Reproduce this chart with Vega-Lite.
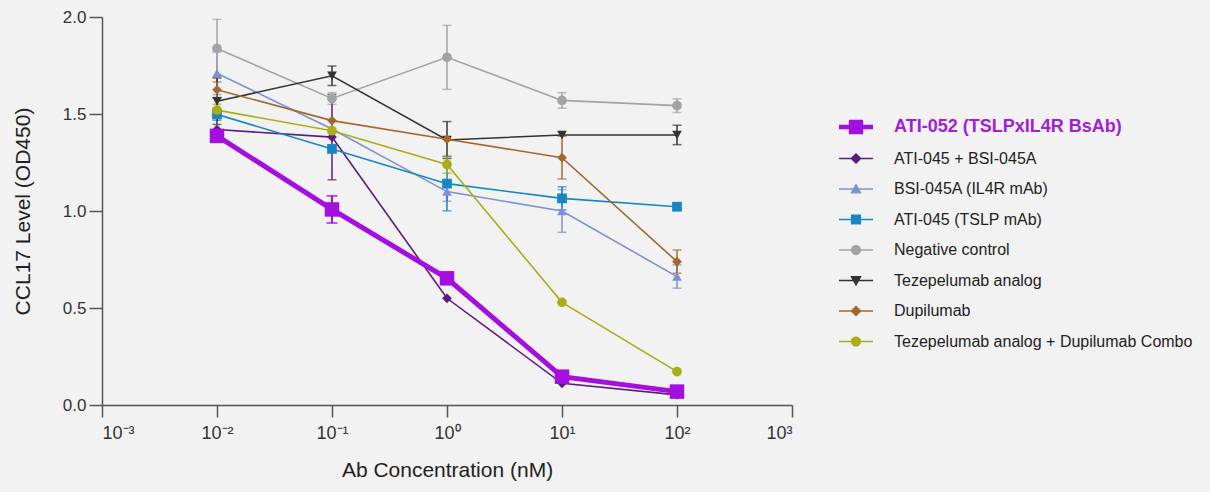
{
  "$schema": "https://vega.github.io/schema/vega-lite/v6.json",
  "autosize": {"type": "none"},
  "padding": {"left": 102, "top": 17, "right": 418, "bottom": 87},
  "width": 690,
  "height": 388,
  "background": "#f2f2f2",
  "data": {
    "values": [
      {"series": "ATI-052 (TSLPxIL4R BsAb)", "conc": 0.01, "v": 1.387, "err": 0},
      {"series": "ATI-052 (TSLPxIL4R BsAb)", "conc": 0.1, "v": 1.008, "err": 0.07},
      {"series": "ATI-052 (TSLPxIL4R BsAb)", "conc": 1, "v": 0.653, "err": 0},
      {"series": "ATI-052 (TSLPxIL4R BsAb)", "conc": 10, "v": 0.146, "err": 0},
      {"series": "ATI-052 (TSLPxIL4R BsAb)", "conc": 100, "v": 0.069, "err": 0},
      {"series": "ATI-045 + BSI-045A", "conc": 0.01, "v": 1.42, "err": 0},
      {"series": "ATI-045 + BSI-045A", "conc": 0.1, "v": 1.381, "err": 0.22},
      {"series": "ATI-045 + BSI-045A", "conc": 1, "v": 0.55, "err": 0},
      {"series": "ATI-045 + BSI-045A", "conc": 10, "v": 0.112, "err": 0},
      {"series": "ATI-045 + BSI-045A", "conc": 100, "v": 0.052, "err": 0},
      {"series": "BSI-045A (IL4R mAb)", "conc": 0.01, "v": 1.71, "err": 0.11},
      {"series": "BSI-045A (IL4R mAb)", "conc": 0.1, "v": 1.423, "err": 0},
      {"series": "BSI-045A (IL4R mAb)", "conc": 1, "v": 1.1, "err": 0.05},
      {"series": "BSI-045A (IL4R mAb)", "conc": 10, "v": 1.0, "err": 0.11},
      {"series": "BSI-045A (IL4R mAb)", "conc": 100, "v": 0.662, "err": 0.06},
      {"series": "ATI-045 (TSLP mAb)", "conc": 0.01, "v": 1.498, "err": 0.03},
      {"series": "ATI-045 (TSLP mAb)", "conc": 0.1, "v": 1.32, "err": 0},
      {"series": "ATI-045 (TSLP mAb)", "conc": 1, "v": 1.141, "err": 0.14},
      {"series": "ATI-045 (TSLP mAb)", "conc": 10, "v": 1.065, "err": 0.06},
      {"series": "ATI-045 (TSLP mAb)", "conc": 100, "v": 1.022, "err": 0},
      {"series": "Negative control", "conc": 0.01, "v": 1.838, "err": 0.15},
      {"series": "Negative control", "conc": 0.1, "v": 1.58, "err": 0.03},
      {"series": "Negative control", "conc": 1, "v": 1.792, "err": 0.165},
      {"series": "Negative control", "conc": 10, "v": 1.57, "err": 0.04},
      {"series": "Negative control", "conc": 100, "v": 1.543, "err": 0.035},
      {"series": "Tezepelumab analog", "conc": 0.01, "v": 1.566, "err": 0.12},
      {"series": "Tezepelumab analog", "conc": 0.1, "v": 1.697, "err": 0.05},
      {"series": "Tezepelumab analog", "conc": 1, "v": 1.366, "err": 0.095},
      {"series": "Tezepelumab analog", "conc": 10, "v": 1.392, "err": 0},
      {"series": "Tezepelumab analog", "conc": 100, "v": 1.392, "err": 0.05},
      {"series": "Dupilumab", "conc": 0.01, "v": 1.625, "err": 0.04},
      {"series": "Dupilumab", "conc": 0.1, "v": 1.466, "err": 0},
      {"series": "Dupilumab", "conc": 1, "v": 1.37, "err": 0},
      {"series": "Dupilumab", "conc": 10, "v": 1.275, "err": 0.11},
      {"series": "Dupilumab", "conc": 100, "v": 0.739, "err": 0.06},
      {"series": "Tezepelumab analog + Dupilumab Combo", "conc": 0.01, "v": 1.52, "err": 0.03},
      {"series": "Tezepelumab analog + Dupilumab Combo", "conc": 0.1, "v": 1.414, "err": 0},
      {"series": "Tezepelumab analog + Dupilumab Combo", "conc": 1, "v": 1.24, "err": 0.045},
      {"series": "Tezepelumab analog + Dupilumab Combo", "conc": 10, "v": 0.529, "err": 0},
      {"series": "Tezepelumab analog + Dupilumab Combo", "conc": 100, "v": 0.172, "err": 0}
    ]
  },
  "encoding": {
    "x": {
      "field": "conc", "type": "quantitative",
      "scale": {"type": "log", "domain": [0.001, 1000], "nice": false},
      "axis": {
        "title": "Ab Concentration (nM)",
        "values": [0.001, 0.01, 0.1, 1, 10, 100, 1000],
        "labelExpr": "datum.value < 0.005 ? '10⁻³' : datum.value < 0.05 ? '10⁻²' : datum.value < 0.5 ? '10⁻¹' : datum.value < 5 ? '10⁰' : datum.value < 50 ? '10¹' : datum.value < 500 ? '10²' : '10³'",
        "labelFontSize": 18,
        "labelPadding": 7,
        "titlePadding": 17,
        "tickSize": 12,
        "grid": false
      }
    },
    "y": {
      "field": "v", "type": "quantitative",
      "scale": {"domain": [0, 2], "nice": false},
      "axis": {
        "title": "CCL17 Level (OD450)",
        "values": [0, 0.5, 1, 1.5, 2],
        "format": ".1f",
        "labelPadding": 3,
        "titlePadding": 29,
        "tickSize": 13,
        "grid": false
      }
    }
  },
  "layer": [
    {
      "transform": [{"filter": "datum.err > 0 && datum.series !== 'ATI-052 (TSLPxIL4R BsAb)'"}],
      "mark": {"type": "errorbar", "ticks": true, "size": 9, "thickness": 1.5},
      "encoding": {
        "yError": {"field": "err"},
        "color": {
          "field": "series", "type": "nominal", "legend": null,
          "scale": {
            "domain": ["ATI-045 + BSI-045A", "BSI-045A (IL4R mAb)", "ATI-045 (TSLP mAb)", "Negative control", "Tezepelumab analog", "Dupilumab", "Tezepelumab analog + Dupilumab Combo"],
            "range": ["#5b1c80", "#7f8fd8", "#1786c6", "#a3a3a3", "#333333", "#a2682b", "#a9ae14"]
          }
        }
      }
    },
    {
      "transform": [{"filter": "datum.series !== 'ATI-052 (TSLPxIL4R BsAb)'"}],
      "mark": {"type": "line", "strokeWidth": 1.6, "opacity": 1},
      "encoding": {
        "color": {
          "field": "series", "type": "nominal", "legend": null,
          "scale": {
            "domain": ["ATI-045 + BSI-045A", "BSI-045A (IL4R mAb)", "ATI-045 (TSLP mAb)", "Negative control", "Tezepelumab analog", "Dupilumab", "Tezepelumab analog + Dupilumab Combo"],
            "range": ["#5b1c80", "#7f8fd8", "#1786c6", "#a3a3a3", "#333333", "#a2682b", "#a9ae14"]
          }
        }
      }
    },
    {
      "transform": [{"filter": "datum.series !== 'ATI-052 (TSLPxIL4R BsAb)'"}],
      "mark": {"type": "point", "filled": true, "opacity": 1, "size": 95},
      "encoding": {
        "color": {
          "field": "series", "type": "nominal", "legend": null,
          "scale": {
            "domain": ["ATI-045 + BSI-045A", "BSI-045A (IL4R mAb)", "ATI-045 (TSLP mAb)", "Negative control", "Tezepelumab analog", "Dupilumab", "Tezepelumab analog + Dupilumab Combo"],
            "range": ["#5b1c80", "#7f8fd8", "#1786c6", "#a3a3a3", "#333333", "#a2682b", "#a9ae14"]
          }
        },
        "shape": {
          "field": "series", "type": "nominal", "legend": null,
          "scale": {
            "domain": ["ATI-045 + BSI-045A", "BSI-045A (IL4R mAb)", "ATI-045 (TSLP mAb)", "Negative control", "Tezepelumab analog", "Dupilumab", "Tezepelumab analog + Dupilumab Combo"],
            "range": ["diamond", "triangle-up", "square", "circle", "triangle-down", "diamond", "circle"]
          }
        }
      }
    },
    {
      "transform": [{"filter": "datum.err > 0 && datum.series === 'ATI-052 (TSLPxIL4R BsAb)'"}],
      "mark": {"type": "errorbar", "ticks": true, "size": 11, "thickness": 2, "color": "#a40fe0"},
      "encoding": {"yError": {"field": "err"}}
    },
    {
      "transform": [{"filter": "datum.series === 'ATI-052 (TSLPxIL4R BsAb)'"}],
      "mark": {"type": "line", "strokeWidth": 5, "color": "#a40fe0", "opacity": 1},
      "encoding": {}
    },
    {
      "transform": [{"filter": "datum.series === 'ATI-052 (TSLPxIL4R BsAb)'"}],
      "mark": {"type": "point", "shape": "square", "filled": true, "size": 210, "color": "#a40fe0", "opacity": 1},
      "encoding": {}
    },
    {
      "transform": [{"filter": "false"}],
      "mark": {"type": "point", "filled": true, "opacity": 1},
      "encoding": {
        "color": {
          "field": "series", "type": "nominal",
          "scale": {
            "domain": ["ATI-052 (TSLPxIL4R BsAb)", "ATI-045 + BSI-045A", "BSI-045A (IL4R mAb)", "ATI-045 (TSLP mAb)", "Negative control", "Tezepelumab analog", "Dupilumab", "Tezepelumab analog + Dupilumab Combo"],
            "range": ["#a40fe0", "#5b1c80", "#7f8fd8", "#1786c6", "#a3a3a3", "#333333", "#a2682b", "#a9ae14"]
          },
          "legend": {
            "title": null,
            "orient": "none",
            "legendX": 737,
            "legendY": 93,
            "symbolSize": 1156,
            "symbolStrokeWidth": 0,
            "symbolOpacity": 1,
            "labelOffset": 21,
            "rowPadding": 5.5,
            "labelFont": "Liberation Sans",
            "labelFontSize": 16,
            "labelColor": "#222222",
            "labelLimit": 500,
            "encode": {
              "labels": {
                "update": {
                  "fontSize": {"signal": "datum.value === 'ATI-052 (TSLPxIL4R BsAb)' ? 18 : 16"},
                  "fontWeight": {"signal": "datum.value === 'ATI-052 (TSLPxIL4R BsAb)' ? 'bold' : 'normal'"},
                  "fill": {"signal": "datum.value === 'ATI-052 (TSLPxIL4R BsAb)' ? '#a020d8' : '#222222'"}
                }
              }
            }
          }
        },
        "shape": {
          "field": "series", "type": "nominal",
          "scale": {
            "domain": ["ATI-052 (TSLPxIL4R BsAb)", "ATI-045 + BSI-045A", "BSI-045A (IL4R mAb)", "ATI-045 (TSLP mAb)", "Negative control", "Tezepelumab analog", "Dupilumab", "Tezepelumab analog + Dupilumab Combo"],
            "range": [
              "M-1,-0.13H1V0.13H-1ZM-0.42,-0.42H0.42V0.42H-0.42Z",
              "M-1,-0.045H1V0.045H-1ZM0,-0.33L0.33,0L0,0.33L-0.33,0Z",
              "M-1,-0.045H1V0.045H-1ZM0,-0.34L0.34,0.26L-0.34,0.26Z",
              "M-1,-0.045H1V0.045H-1ZM-0.3,-0.3H0.3V0.3H-0.3Z",
              "M-1,-0.045H1V0.045H-1ZM-0.3,0A0.3,0.3,0,1,1,0.3,0A0.3,0.3,0,1,1,-0.3,0Z",
              "M-1,-0.045H1V0.045H-1ZM0,0.34L-0.34,-0.26L0.34,-0.26Z",
              "M-1,-0.045H1V0.045H-1ZM0,-0.33L0.33,0L0,0.33L-0.33,0Z",
              "M-1,-0.045H1V0.045H-1ZM-0.3,0A0.3,0.3,0,1,1,0.3,0A0.3,0.3,0,1,1,-0.3,0Z"
            ]
          },
          "legend": {
            "title": null,
            "orient": "none",
            "legendX": 737,
            "legendY": 93
          }
        }
      }
    }
  ],
  "resolve": {"scale": {"color": "independent", "shape": "independent"}},
  "config": {
    "font": "Liberation Sans",
    "view": {"stroke": null},
    "axis": {
      "domainColor": "#555555",
      "domainWidth": 1.5,
      "tickColor": "#555555",
      "tickWidth": 1.5,
      "labelFont": "Liberation Sans",
      "labelFontSize": 17,
      "labelColor": "#333333",
      "titleFont": "Liberation Sans",
      "titleFontSize": 21,
      "titleFontWeight": "normal",
      "titleColor": "#222222"
    }
  }
}
